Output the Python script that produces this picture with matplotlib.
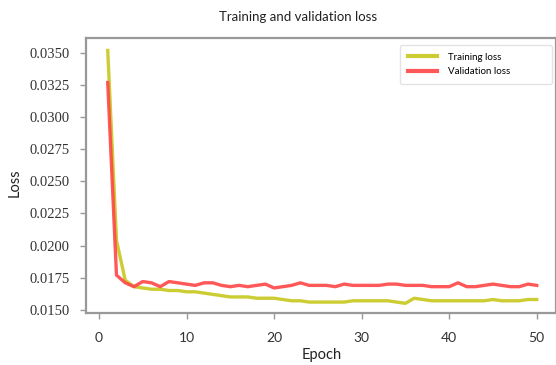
import numpy as np
import matplotlib.pyplot as plt

epochs = list(range(1, 51))
train_loss = [0.0352, 0.0204, 0.0173, 0.0168, 0.0167, 0.0166, 0.0166, 0.0165, 0.0165, 0.0164,
              0.0164, 0.0163, 0.0162, 0.0161, 0.0160, 0.0160, 0.0160, 0.0159, 0.0159, 0.0159,
              0.0158, 0.0157, 0.0157, 0.0156, 0.0156, 0.0156, 0.0156, 0.0156, 0.0157, 0.0157,
              0.0157, 0.0157, 0.0157, 0.0156, 0.0155, 0.0159, 0.0158, 0.0157, 0.0157, 0.0157,
              0.0157, 0.0157, 0.0157, 0.0157, 0.0158, 0.0157, 0.0157, 0.0157, 0.0158, 0.0158]
val_loss = [0.0327, 0.0177, 0.0171, 0.0168, 0.0172, 0.0171, 0.0168, 0.0172, 0.0171, 0.0170,
            0.0169, 0.0171, 0.0171, 0.0169, 0.0168, 0.0169, 0.0168, 0.0169, 0.0170, 0.0167,
            0.0168, 0.0169, 0.0171, 0.0169, 0.0169, 0.0169, 0.0168, 0.0170, 0.0169, 0.0169,
            0.0169, 0.0169, 0.0170, 0.0170, 0.0169, 0.0169, 0.0169, 0.0168, 0.0168, 0.0168,
            0.0171, 0.0168, 0.0168, 0.0169, 0.0170, 0.0169, 0.0168, 0.0168, 0.0170, 0.0169]
yticks = [0.0150, 0.0175, 0.0200, 0.0225, 0.0250, 0.0275, 0.0300, 0.0325, 0.0350]
xticks = [0, 10, 20, 30, 40, 50]

fig = plt.figure(figsize=(5.56, 3.65), dpi=100)
ax = fig.add_axes([0.1547, 0.1425, 0.8453, 0.7534])

ax.plot(epochs, train_loss, color='#cccc33', lw=2.4, label='Training loss')
ax.plot(epochs, val_loss, color='#ff4646', lw=2.4, alpha=0.9, label='Validation loss')

ax.set_xlim(-1.48, 52.2)
ax.set_ylim(0.01475, 0.03617)
ax.set_yticks(yticks)
ax.set_yticklabels(['%.4f' % t for t in yticks], fontfamily='Liberation Serif', fontsize=10.5, color='#333333')
ax.set_xticks(xticks)
ax.set_xticklabels([str(t) for t in xticks], fontfamily='Lato', fontsize=10, color='#333333')
ax.tick_params(axis='both', direction='out', length=4, width=1, color='#999999')
ax.tick_params(axis='y', pad=8)
ax.tick_params(axis='x', pad=10)

for s in ax.spines.values():
    s.set_color('#999999')
    s.set_linewidth(1.6)

fig.text(0.536, 0.953, 'Training and validation loss', ha='center', va='center',
         fontfamily='Lato', fontsize=9.5, color='#222222')
fig.text(0.027, 0.499, 'Loss', ha='center', va='center', rotation=90,
         fontfamily='Lato', fontsize=10.5, color='#222222')
fig.text(0.579, 0.027, 'Epoch', ha='center', va='center',
         fontfamily='Lato', fontsize=10.5, color='#222222')

# legend box stretched to a fixed width in the upper right corner
leg = ax.legend(loc='upper left', bbox_to_anchor=(0.668, 0.818, 0.323, 0.157), mode='expand',
                prop={'family': 'Lato', 'size': 7}, handlelength=3.0, handletextpad=1.1,
                labelspacing=0.55, borderpad=0.8, borderaxespad=0,
                frameon=True, fancybox=True, edgecolor='#dddddd')
for line in leg.get_lines():
    line.set_linewidth(3)

fig.savefig('out.png', dpi=100)
